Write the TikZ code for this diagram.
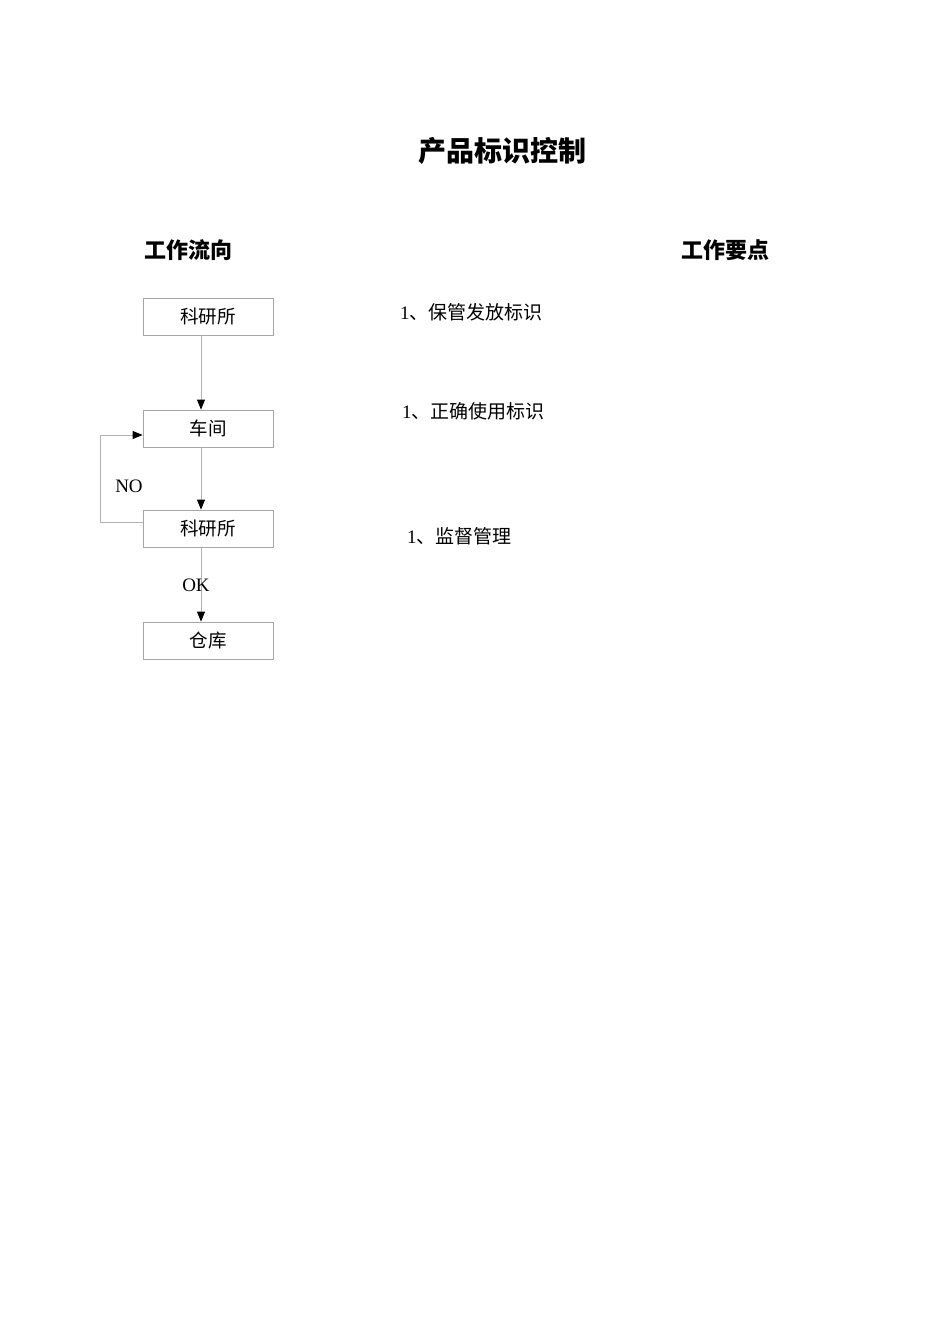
\documentclass[tikz,border=0pt]{standalone}
\usepackage{fontspec}
\setmainfont{Liberation Serif}
\newfontfamily\cjk{Noto Sans CJK SC}
\usetikzlibrary{arrows.meta}

\begin{document}
\begin{tikzpicture}[x=1pt, y=-1pt, >={Triangle[length=10pt,width=8pt,color=black]}]

\tikzset{
  every flowbox/.style={draw=black!35, line width=0.8pt, minimum width=130pt,
    minimum height=37pt, inner sep=0pt, font=\cjk\fontsize{18.5}{18.5}\selectfont},
  flowline/.style={draw=black!30, line width=0.8pt},
  pointtext/.style={anchor=west, inner sep=0pt, font=\fontsize{19}{19}\selectfont}
}

\useasboundingbox (0,0) rectangle (950,1344);

% Title and column headings
\node [font=\cjk\bfseries\fontsize{28}{28}\selectfont] (title) at (502,151) {产品标识控制};
\node [font=\cjk\bfseries\fontsize{22}{22}\selectfont] (head-flow) at (188,250) {工作流向};
\node [font=\cjk\bfseries\fontsize{22}{22}\selectfont] (head-point) at (725,250) {工作要点};

% Create the flow boxes
\foreach \m/\l/\yc in {1/科研所/316.5, 2/车间/428.5, 3/科研所/528.5, 4/仓库/640.5}
  \node [every flowbox/.try] (step-\m) at (208,\yc) {\l};

% The spine the arrows run along
\coordinate (spine) at (201,0);
\coordinate (loop) at (100,0);
\coordinate (no-out) at ([yshift=6.5pt]step-3.west);
\coordinate (no-in) at ([yshift=-6.5pt]step-2.west);

% Connect the boxes
\foreach \i/\j in {1/2, 2/3, 3/4}
  \draw [flowline, ->] (step-\i.south -| spine) -- (step-\j.north -| spine);

% Return loop
\draw [flowline, ->] (no-out) -- (no-out -| loop) -- (no-in -| loop) -- (no-in);
\node (lab-no) at (129,486) {\fontsize{19}{19}\selectfont NO};
\node (lab-ok) at (196,585) {\fontsize{19}{19}\selectfont OK};

% Work points
\node [pointtext] (point-1) at (400,312) {1{\cjk 、保管发放标识}};
\node [pointtext] (point-2) at (402,411) {1{\cjk 、正确使用标识}};
\node [pointtext] (point-3) at (407,536) {1{\cjk 、监督管理}};

\end{tikzpicture}
\end{document}
